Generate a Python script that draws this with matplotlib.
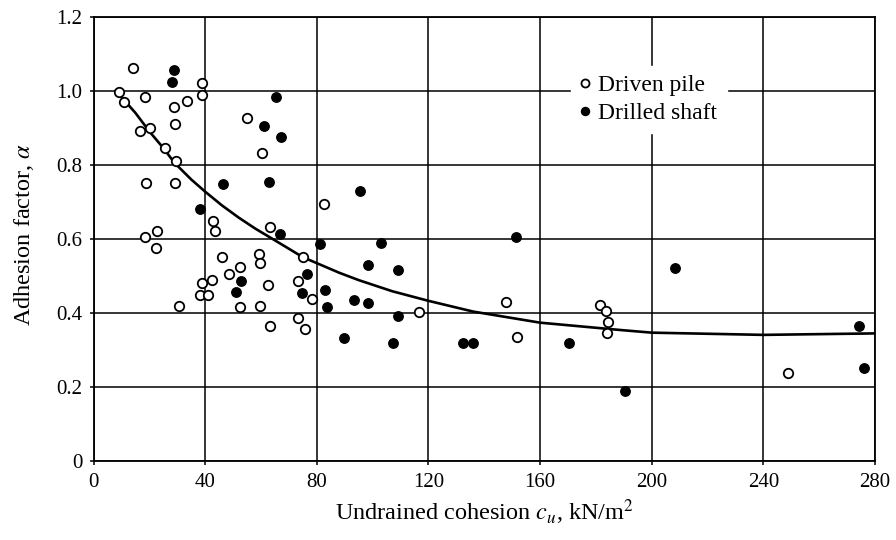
import matplotlib.pyplot as plt

# Driven pile (open circles)
driven_x = [14.3, 9.1, 11.0, 18.6, 28.9, 33.5, 38.8, 38.8, 29.1, 16.7, 20.3, 25.5, 29.5,
            18.7, 29.1, 55.1, 60.3, 82.7, 42.7, 43.5, 63.3, 18.5, 22.9, 22.3, 45.9, 59.3,
            59.8, 52.3, 48.7, 42.4, 38.8, 38.2, 41.1, 30.6, 52.3, 59.7, 62.4, 63.3, 73.2,
            75.2, 73.4, 75.8, 78.4, 116.5, 147.7, 151.7, 181.5, 183.7, 184.4, 183.9, 248.8]
driven_y = [1.06, 0.996, 0.969, 0.983, 0.955, 0.973, 1.02, 0.988, 0.91, 0.892, 0.898, 0.846, 0.809,
            0.75, 0.751, 0.925, 0.832, 0.694, 0.649, 0.622, 0.632, 0.605, 0.621, 0.574, 0.55, 0.559,
            0.533, 0.524, 0.504, 0.488, 0.479, 0.448, 0.448, 0.419, 0.414, 0.418, 0.475, 0.364, 0.486,
            0.551, 0.386, 0.356, 0.437, 0.403, 0.43, 0.335, 0.421, 0.405, 0.376, 0.344, 0.238]

# Drilled shaft (filled circles)
drilled_x = [28.9, 28.2, 65.4, 61.2, 67.0, 46.5, 62.8, 38.2, 66.8, 81.2, 95.4, 52.8, 51.1,
             76.4, 74.8, 83.1, 83.6, 89.8, 93.2, 151.2, 103.0, 98.5, 109.2, 98.5, 109.0,
             107.2, 132.3, 135.9, 170.5, 208.4, 190.5, 274.1, 275.9]
drilled_y = [1.056, 1.024, 0.983, 0.905, 0.875, 0.747, 0.754, 0.68, 0.612, 0.585, 0.729, 0.486, 0.455,
             0.505, 0.452, 0.461, 0.414, 0.331, 0.434, 0.605, 0.587, 0.529, 0.515, 0.427, 0.391,
             0.317, 0.317, 0.317, 0.317, 0.522, 0.189, 0.365, 0.251]

# trend curve
curve_x = [8, 15, 20, 25, 29, 35, 40, 46, 52, 58, 64, 75, 88, 95, 107, 120, 136, 160, 189, 200, 240, 280]
curve_y = [1.0, 0.94, 0.89, 0.845, 0.805, 0.76, 0.727, 0.69, 0.657, 0.627, 0.60, 0.55, 0.508, 0.488,
           0.458, 0.432, 0.403, 0.373, 0.353, 0.346, 0.340, 0.344]

xticks = [0, 40, 80, 120, 160, 200, 240, 280]
yticks = [0, 0.2, 0.4, 0.6, 0.8, 1.0, 1.2]
yticklabels = ["0", "0.2", "0.4", "0.6", "0.8", "1.0", "1.2"]

plt.rcParams['font.family'] = ['Liberation Serif', 'DejaVu Serif']
plt.rcParams['mathtext.fontset'] = 'stix'

fig = plt.figure(figsize=(8.96, 5.4), dpi=100)
ax = fig.add_axes([0.1044, 0.1469, 0.8722, 0.8222])

ax.plot(curve_x, curve_y, color='black', lw=1.9, zorder=3)
ax.plot(driven_x, driven_y, 'o', ms=6.8, mfc='white', mec='black', mew=1.3,
        label='Driven pile', zorder=4)
ax.plot(drilled_x, drilled_y, 'o', ms=6.8, mfc='black', mec='black',
        label='Drilled shaft', zorder=4)

ax.set_xlim(0, 280)
ax.set_ylim(0, 1.2)
ax.set_xticks(xticks)
ax.set_yticks(yticks)
ax.set_yticklabels(yticklabels)
ax.tick_params(labelsize=15, length=3, width=1.1, pad=5)
ax.tick_params(axis='x', pad=6)
ax.grid(True, color='black', lw=1.1)
ax.set_axisbelow(True)
for s in ax.spines.values():
    s.set_linewidth(1.3)

ax.set_xlabel(r'Undrained cohesion $c_u$, kN/m$^2$', fontsize=17.5)
ax.set_ylabel(r'Adhesion factor, $\alpha$', fontsize=17.5)
ax.xaxis.set_label_coords(0.5, -0.083)
ax.yaxis.set_label_coords(-0.073, 0.51)

leg = ax.legend(loc='upper left', bbox_to_anchor=(0.611, 0.89), fontsize=17,
                frameon=True, fancybox=False, framealpha=1, edgecolor='white',
                handletextpad=0.35, handlelength=0.4, labelspacing=0.25,
                borderpad=0.4, borderaxespad=0, markerscale=0.85)

fig.savefig('out.png', dpi=100)
